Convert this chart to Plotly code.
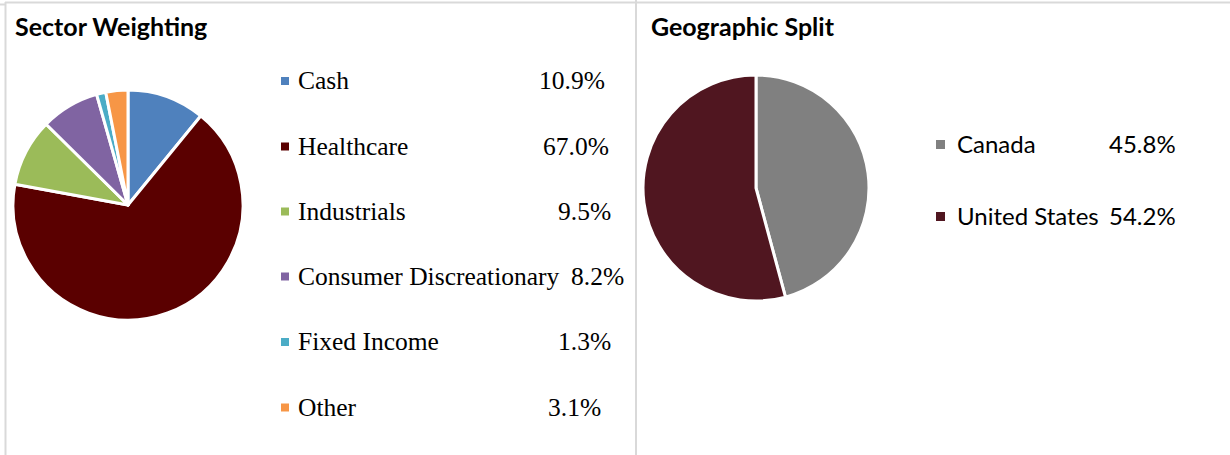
import plotly.graph_objects as go

W, H = 1230, 455

# ---- data ----
sector_labels = ["Cash", "Healthcare", "Industrials", "Consumer Discreationary", "Fixed Income", "Other"]
sector_values = [10.9, 67.0, 9.5, 8.2, 1.3, 3.1]
sector_colors = ["#4F81BD", "#5A0000", "#9BBB59", "#8064A2", "#4BACC6", "#F79646"]

geo_labels = ["Canada", "United States"]
geo_values = [45.8, 54.2]
geo_colors = ["#808080", "#501620"]

titles = ["Sector Weighting", "Geographic Split"]


def px(x):
    return x / W


def py(y):
    return 1 - y / H


fig = go.Figure()

# left pie: centre (128,205), r 115
fig.add_trace(go.Pie(
    labels=sector_labels, values=sector_values, sort=False, direction="clockwise",
    rotation=0, textinfo="none", showlegend=False,
    marker=dict(colors=sector_colors, line=dict(color="white", width=3)),
    domain=dict(x=[px(13), px(243)], y=[py(320), py(90)]),
))

# right pie: centre (756,188), r 113
fig.add_trace(go.Pie(
    labels=geo_labels, values=geo_values, sort=False, direction="clockwise",
    rotation=0, textinfo="none", showlegend=False,
    marker=dict(colors=geo_colors, line=dict(color="white", width=3)),
    domain=dict(x=[px(643), px(869)], y=[py(301), py(75)]),
))

annotations = []
shapes = []

# titles
title_font = dict(family="Lato", size=25, color="black", weight="bold")
annotations.append(dict(text="<b>" + titles[0] + "</b>", x=px(13), y=py(26), xref="paper", yref="paper",
                        xanchor="left", yanchor="middle", showarrow=False, font=title_font))
annotations.append(dict(text="<b>" + titles[1] + "</b>", x=px(649), y=py(26), xref="paper", yref="paper",
                        xanchor="left", yanchor="middle", showarrow=False, font=title_font))

# left legend
serif = dict(family="Liberation Serif", size=25.5, color="black")
row_y = [80.5, 146, 211, 276, 341.5, 407]
pct_right = [607, 611, 613, 626, 613, 603]
for lab, val, col, yy, xr in zip(sector_labels, sector_values, sector_colors, row_y, pct_right):
    shapes.append(dict(type="rect", xref="paper", yref="paper",
                       x0=px(281), x1=px(289), y0=py(yy + 4.5), y1=py(yy - 3.5),
                       fillcolor=col, line=dict(width=0)))
    annotations.append(dict(text=lab, x=px(296), y=py(yy), xref="paper", yref="paper",
                            xanchor="left", yanchor="middle", showarrow=False, font=serif))
    annotations.append(dict(text=f"{val:.1f}%", x=px(xr), y=py(yy), xref="paper", yref="paper",
                            xanchor="right", yanchor="middle", showarrow=False, font=serif))

# right legend
sans = dict(family="Lato", size=24, color="black")
geo_row_y = [143, 215]
for lab, val, col, yy in zip(geo_labels, geo_values, geo_colors, geo_row_y):
    shapes.append(dict(type="rect", xref="paper", yref="paper",
                       x0=px(936), x1=px(945), y0=py(yy + 6), y1=py(yy - 3),
                       fillcolor=col, line=dict(width=0)))
    annotations.append(dict(text=lab, x=px(955), y=py(yy), xref="paper", yref="paper",
                            xanchor="left", yanchor="middle", showarrow=False, font=sans))
    annotations.append(dict(text=f"{val:.1f}%", x=px(1178), y=py(yy), xref="paper", yref="paper",
                            xanchor="right", yanchor="middle", showarrow=False, font=sans))

# panel borders
border = dict(color="#D9D9D9", width=2)
shapes.append(dict(type="line", xref="paper", yref="paper", x0=px(5), x1=1, y0=py(2.5), y1=py(2.5), line=border))
shapes.append(dict(type="line", xref="paper", yref="paper", x0=0, x1=px(5), y0=py(4.5), y1=py(4.5), line=border))
shapes.append(dict(type="line", xref="paper", yref="paper", x0=px(5.5), x1=px(5.5), y0=py(2), y1=0, line=border))
shapes.append(dict(type="line", xref="paper", yref="paper", x0=px(636), x1=px(636), y0=1, y1=0, line=border))

fig.update_layout(
    width=W, height=H, margin=dict(l=0, r=0, t=0, b=0),
    paper_bgcolor="white", plot_bgcolor="white",
    annotations=annotations, shapes=shapes,
)

fig.write_html("out.html", config={"displayModeBar": False},
               post_script="document.body.style.margin='0';document.body.style.overflow='hidden';")
